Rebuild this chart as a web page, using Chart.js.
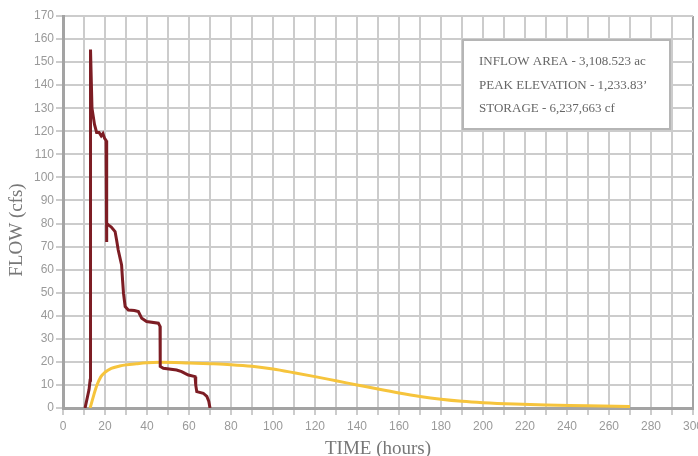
<!DOCTYPE html>
<html>
<head>
<meta charset="utf-8">
<title>Flow hydrograph</title>
<script src="https://cdn.jsdelivr.net/npm/chart.js@4.4.1/dist/chart.umd.min.js"></script>
<style>
  html, body { margin: 0; padding: 0; background: #fff; }
  #wrap { width: 698px; height: 456px; position: relative; }
</style>
</head>
<body>
<div id="wrap"><canvas id="flow-chart"></canvas></div>
<script>
// inflow hydrograph (dark red)
const inflowTime = [10.5, 12.4, 12.9, 13.1, 13.8, 15.0, 16.0, 17.2, 18.2, 19.0, 19.8, 20.5, 20.7, 20.9, 21.6, 23.0, 24.8, 25.5, 26.3, 27.9, 28.4, 28.8, 29.6, 31.1, 34.0, 35.9, 37.5, 39.8, 45.4, 46.2, 46.3, 47.8, 54.1, 56.5, 58.1, 59.7, 62.9, 63.2, 63.7, 66.8, 68.5, 69.4, 70.0];
const inflowFlow = [0, 8, 12, 155.5, 130, 123, 119.5, 119.5, 118, 119, 117, 116, 72, 80, 79.4, 78.5, 76.5, 73, 68.5, 62, 55, 49.8, 44, 42.5, 42.3, 41.8, 38.9, 37.5, 36.8, 35.4, 18, 17.2, 16.5, 15.8, 15, 14.3, 13.6, 10, 7.1, 6.4, 5, 3, 0];

// outflow hydrograph (gold)
const outflowTime = [12.9, 14, 16, 18, 20, 23, 27, 30, 35, 40, 46, 60, 70, 80, 90, 100, 110, 120, 130, 140, 150, 160, 170, 180, 190, 200, 215, 230, 250, 270];
const outflowFlow = [0, 3.5, 9.5, 13.5, 15.5, 17.2, 18.2, 18.7, 19.2, 19.6, 19.8, 19.5, 19.2, 18.8, 18.1, 16.9, 15.3, 13.6, 11.8, 10.0, 8.2, 6.5, 5.0, 3.8, 2.9, 2.3, 1.7, 1.3, 1.0, 0.6];

const infoLines = [
  'INFLOW AREA - 3,108.523 ac',
  'PEAK ELEVATION - 1,233.83\u2019',
  'STORAGE - 6,237,663 cf'
];

const GRID = '#cccccc';
const AXIS = '#a3a3a3';
const LABEL = '#9a9a9a';
const TITLE = '#777777';

const toPoints = (xs, ys) => xs.map((x, i) => ({ x: x, y: ys[i] }));

// info box + rotated y title
const extrasPlugin = {
  id: 'extras',
  afterDraw(chart) {
    const ctx = chart.ctx;
    ctx.save();
    ctx.fillStyle = '#ffffff';
    ctx.fillRect(463, 40, 207, 89);
    ctx.strokeStyle = '#b5b5b5';
    ctx.lineWidth = 2;
    ctx.strokeRect(463, 40, 207, 89);
    ctx.fillStyle = '#666666';
    ctx.font = '13px "Liberation Serif", serif';
    ctx.textBaseline = 'middle';
    infoLines.forEach((line, i) => {
      ctx.fillText(line, 479, 62 + i * 23.5, 176);
    });

    ctx.translate(17, 230);
    ctx.rotate(-Math.PI / 2);
    ctx.textAlign = 'center';
    ctx.font = '19px "Liberation Serif", serif';
    ctx.fillStyle = TITLE;
    ctx.fillText('FLOW (cfs)', 0, 0);
    ctx.restore();
  }
};

new Chart(document.getElementById('flow-chart'), {
  type: 'line',
  data: {
    datasets: [{
      label: 'Inflow',
      data: toPoints(inflowTime, inflowFlow),
      borderColor: '#7d1d24',
      borderWidth: 3,
      pointRadius: 0,
      tension: 0,
      fill: false
    }, {
      label: 'Outflow',
      data: toPoints(outflowTime, outflowFlow),
      borderColor: '#f6c43c',
      borderWidth: 3,
      pointRadius: 0,
      cubicInterpolationMode: 'monotone',
      fill: false
    }]
  },
  options: {
    responsive: true,
    maintainAspectRatio: false,
    animation: false,
    layout: { padding: { top: 16, right: 5, left: 0, bottom: 0 } },
    plugins: {
      legend: { display: false },
      tooltip: { enabled: false }
    },
    scales: {
      x: {
        type: 'linear',
        min: 0,
        max: 300,
        afterFit: (scale) => {
          scale.height = 48;
          scale.paddingLeft = 0;
          scale.paddingRight = 0;
        },
        border: { color: AXIS, width: 3 },
        grid: {
          color: (c) => c.tick && c.tick.value === 300 ? AXIS : GRID,
          lineWidth: 2,
          tickLength: 7,
          tickColor: GRID
        },
        ticks: {
          stepSize: 10,
          autoSkip: false,
          maxRotation: 0,
          padding: 4,
          color: LABEL,
          font: { family: '"Liberation Sans", Arial, sans-serif', size: 12 },
          callback: (v) => v % 20 === 0 ? String(v) : ''
        },
        title: {
          display: true,
          text: 'TIME (hours)',
          color: TITLE,
          padding: { top: 0, bottom: 0 },
          font: { family: '"Liberation Serif", serif', size: 19, lineHeight: 0.7 }
        }
      },
      y: {
        min: 0,
        max: 170,
        afterFit: (scale) => {
          scale.width = 63;
          scale.paddingTop = 0;
          scale.paddingBottom = 0;
        },
        border: { color: AXIS, width: 3 },
        grid: {
          color: GRID,
          lineWidth: 2,
          tickLength: 7,
          tickColor: GRID
        },
        ticks: {
          stepSize: 10,
          autoSkip: false,
          padding: 2,
          color: LABEL,
          font: { family: '"Liberation Sans", Arial, sans-serif', size: 12 }
        }
      }
    }
  },
  plugins: [extrasPlugin]
});
</script>
</body>
</html>
